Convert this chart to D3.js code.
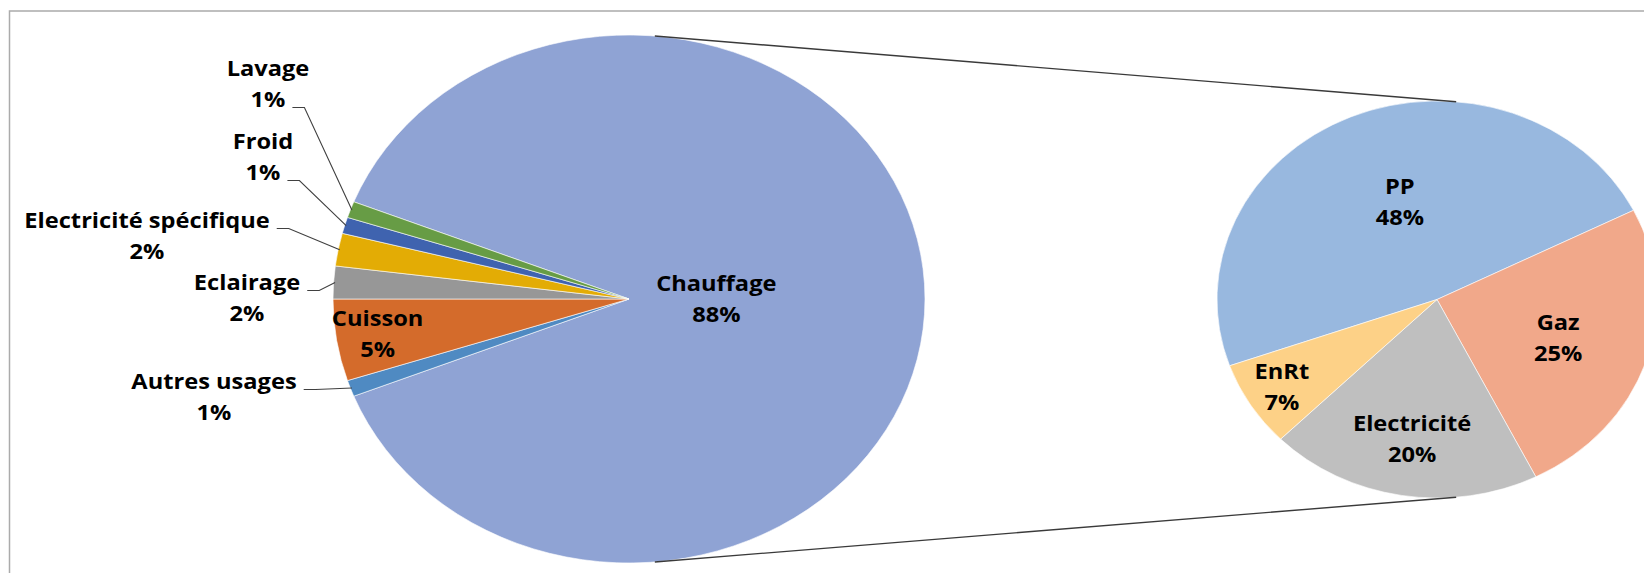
<!DOCTYPE html>
<html>
<head>
<meta charset="utf-8">
<script src="https://cdn.jsdelivr.net/npm/d3@7"></script>
<style>
  body { margin: 0; background: #fff; }
  svg { display: block; }
  text { font-family: "Open Sans", Lato, sans-serif; font-weight: 700; font-size: 21.5px; fill: #000; }
</style>
</head>
<body>
<svg width="1644" height="573"></svg>
<script>
const width = 1644;
const height = 573;

// main pie (Excel order, clockwise from the split slice)
const categories1 = ["Chauffage", "Autres usages", "Cuisson", "Eclairage", "Electricité spécifique", "Froid", "Lavage"];
const values1 = [88, 1, 5, 2, 2, 1, 1];
const colors1 = ["#8FA3D4", "#4F8AC2", "#D46B2B", "#979797", "#E3AC05", "#3F63AF", "#679C45"];

// second pie : breakdown of Chauffage
const categories2 = ["PP", "Gaz", "Electricité", "EnRt"];
const values2 = [48, 25, 20, 7];
const colors2 = ["#98B8DF", "#F1A88A", "#BFBFBF", "#FDD187"];

const svg = d3.select("svg");

// the source picture is stretched sideways, text included
const stretch = 1.1;

// frame (cut off on the right / bottom like the source)
svg.append("rect")
    .attr("x", 9.5).attr("y", 11)
    .attr("width", width + 20).attr("height", height + 20)
    .attr("fill", "none")
    .attr("stroke", "#ABABAB")
    .attr("stroke-width", 1.5);

const pie1 = { cx: 629, cy: 299, rx: 296, ry: 264 };
const pie2 = { cx: 1437, cy: 299.5, rx: 220, ry: 198.5 };

const total1 = d3.sum(values1);
const start1 = Math.PI / 2 - Math.PI * values1[0] / total1;
const arcs1 = d3.pie().sort(null).startAngle(start1).endAngle(start1 + 2 * Math.PI)(values1);

const start2 = -109.5 * Math.PI / 180;
const arcs2 = d3.pie().sort(null).startAngle(start2).endAngle(start2 + 2 * Math.PI)(values2);

// point on the ellipse for a d3 angle (0 = 12 o'clock, clockwise)
const onEllipse = (p, a, f = 1) => [p.cx + p.rx * f * Math.sin(a), p.cy - p.ry * f * Math.cos(a)];

function drawPie(p, arcs, colors) {
    const arc = d3.arc().innerRadius(0).outerRadius(p.ry);
    svg.append("g")
        .attr("transform", `translate(${p.cx},${p.cy}) scale(${p.rx / p.ry},1)`)
        .selectAll("path")
        .data(arcs)
        .join("path")
        .attr("d", arc)
        .attr("fill", (d, i) => colors[i])
        .attr("stroke", "#fff")
        .attr("stroke-width", 0.6)
        .attr("vector-effect", "non-scaling-stroke");
}

drawPie(pie1, arcs1, colors1);
drawPie(pie2, arcs2, colors2);

// connector lines between the two pies
const connA = 5 * Math.PI / 180;
[connA, Math.PI - connA].forEach(a => {
    const p1 = onEllipse(pie1, a);
    const p2 = onEllipse(pie2, a);
    svg.append("line")
        .attr("x1", p1[0]).attr("y1", p1[1])
        .attr("x2", p2[0]).attr("y2", p2[1])
        .attr("stroke", "#3A3A3A")
        .attr("stroke-width", 1.4);
});

const pct = v => v + "%";
const lineGap = 31;

// two-line label (name / percentage), returns the half-width of each line
function twoLines(x, y, name, value) {
    const g = svg.append("g").attr("transform", `translate(${x},${y}) scale(${stretch},1)`);
    return [name, pct(value)].map((s, k) => {
        const t = g.append("text")
            .attr("y", (k === 0 ? -1 : 1) * lineGap / 2)
            .attr("text-anchor", "middle")
            .attr("dominant-baseline", "middle")
            .text(s);
        return t.node().getComputedTextLength() * stretch / 2;
    });
}

// labels placed inside slices: [mid-angle radius fraction, dx, dy]
const inside1 = { "Chauffage": [0.295, 0, 2], "Cuisson": [0.86, 0, 1] };
arcs1.forEach((d, i) => {
    const c = categories1[i];
    if (!inside1[c]) return;
    const [f, dx, dy] = inside1[c];
    const mid = (d.startAngle + d.endAngle) / 2;
    const [x, y] = onEllipse(pie1, mid, f);
    twoLines(x + dx, y + dy, c, values1[i]);
});

// outside labels with leader lines: block centre and which line the leader hooks to
const outside1 = {
    "Lavage": [268, 86, 1],
    "Froid": [263, 159, 1],
    "Electricité spécifique": [147, 238, 0],
    "Eclairage": [247, 300, 0],
    "Autres usages": [214, 399, 0]
};
arcs1.forEach((d, i) => {
    const c = categories1[i];
    if (!outside1[c]) return;
    const [x, y, hook] = outside1[c];
    const halfW = twoLines(x, y, c, values1[i]);
    const ly = y + (hook === 0 ? -lineGap / 2 : lineGap / 2) + 6;
    const sx = x + halfW[hook] + 7;
    const mid = (d.startAngle + d.endAngle) / 2;
    const end = onEllipse(pie1, mid, 0.995);
    svg.append("polyline")
        .attr("points", [[sx, ly], [sx + 12, ly], end].map(p => p.join(",")).join(" "))
        .attr("fill", "none")
        .attr("stroke", "#404040")
        .attr("stroke-width", 1.1);
});

// second pie labels: [mid-angle radius fraction, dx, dy]
const inside2 = {
    "PP": [0.5, 6, -4],
    "Gaz": [0.58, 0, 4],
    "Electricité": [0.7, 0, 4],
    "EnRt": [0.8, -6, 5]
};
arcs2.forEach((d, i) => {
    const c = categories2[i];
    const [f, dx, dy] = inside2[c];
    const mid = (d.startAngle + d.endAngle) / 2;
    const [x, y] = onEllipse(pie2, mid, f);
    twoLines(x + dx, y + dy, c, values2[i]);
});
</script>
</body>
</html>
